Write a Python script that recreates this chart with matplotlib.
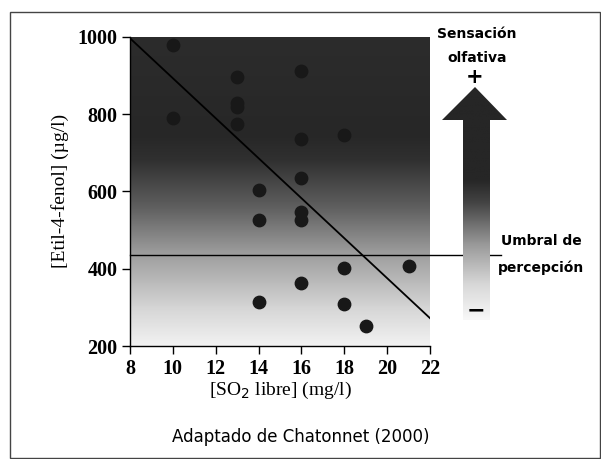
import numpy as np
import matplotlib
matplotlib.use('Agg')
import matplotlib.pyplot as plt
from matplotlib.colors import LinearSegmentedColormap
from matplotlib.patches import Polygon, Rectangle

# data
so2_libre = [10, 10, 13, 13, 13, 13, 14, 14, 14, 16, 16, 16, 16, 16, 16, 18, 18, 18, 19, 21]
etil_fenol = [978, 791, 895, 829, 818, 775, 603, 526, 315, 911, 735, 635, 547, 526, 364, 746, 401, 308, 252, 407]
reg_x = [8, 22]
reg_y = [996, 272]
umbral = 435
x_ticks = [8, 10, 12, 14, 16, 18, 20, 22]
y_ticks = [200, 400, 600, 800, 1000]

W, H = 601, 459
fig = plt.figure(figsize=(W / 100, H / 100), dpi=100)
fig.patch.set_facecolor('white')

ax = fig.add_axes([130 / W, 1 - 346 / H, 300 / W, (346 - 36.7) / H])

# background gradient (dark at top, light at bottom)
grad_cmap = LinearSegmentedColormap.from_list(
    'fondo', [(0.0, '#f2f2f2'), (0.12, '#d6d6d6'), (0.3, '#9c9c9c'),
              (0.45, '#5e5e5e'), (0.6, '#303030'), (0.68, '#272727'), (1.0, '#2c2c2c')])
yy = np.linspace(0, 1, 256).reshape(-1, 1)
ax.imshow(yy, extent=[8, 22, 200, 1000], origin='lower', aspect='auto', cmap=grad_cmap, zorder=0)

ax.scatter(so2_libre, etil_fenol, s=80, color='#181818', zorder=3)
ax.plot(reg_x, reg_y, color='black', lw=1.3, zorder=4)
ax.plot([8, 25.3], [umbral, umbral], color='black', lw=1.0, zorder=4, clip_on=False)

ax.set_xlim(8, 22)
ax.set_ylim(200, 1000)
ax.set_xticks(x_ticks)
ax.set_yticks(y_ticks)
for s in ['top', 'right']:
    ax.spines[s].set_visible(False)
for s in ['left', 'bottom']:
    ax.spines[s].set_linewidth(1.0)
ax.tick_params(direction='out', length=6, width=1.0, pad=3)
for lab in ax.get_xticklabels() + ax.get_yticklabels():
    lab.set_fontfamily('Liberation Serif')
    lab.set_fontweight('bold')
    lab.set_fontsize(14.5)

ax.set_xlabel('[SO$_2$ libre] (mg/l)', fontfamily='Liberation Serif', fontsize=14, labelpad=1)
ax.set_ylabel('[Etil-4-fenol] (µg/l)', fontfamily='Liberation Serif', fontsize=14, labelpad=6)

# overlay in pixel coordinates for arrow, notes and frame
ov = fig.add_axes([0, 0, 1, 1], zorder=5)
ov.set_xlim(0, W)
ov.set_ylim(H, 0)
ov.axis('off')
ov.patch.set_alpha(0)

arrow_pts = [(442, 120), (475, 87), (507, 120), (490, 120), (490, 320), (463, 320), (463, 120)]
arrow = Polygon(arrow_pts, closed=True, facecolor='none', edgecolor='none')
ov.add_patch(arrow)
arrow_cmap = LinearSegmentedColormap.from_list(
    'flecha', [(0.0, '#f8f8f8'), (0.15, '#d8d8d8'), (0.32, '#9a9a9a'),
               (0.5, '#444444'), (0.6, '#262626'), (1.0, '#262626')])
img = ov.imshow(yy[::-1], extent=[440, 510, 320, 86], origin='upper', aspect='auto', cmap=arrow_cmap)
img.set_clip_path(arrow)

note_kw = dict(fontfamily='DejaVu Sans', fontweight='bold', fontsize=10, ha='center', va='center')
ov.text(477, 34, 'Sensación', **note_kw)
ov.text(477, 58, 'olfativa', **note_kw)
ov.text(475, 77, '+', fontfamily='DejaVu Sans', fontweight='bold', fontsize=15, ha='center', va='center')
ov.text(476, 310, '−', fontfamily='DejaVu Sans', fontweight='bold', fontsize=16, ha='center', va='center')
ov.text(541, 241, 'Umbral de', **note_kw)
ov.text(541, 268, 'percepción', **note_kw)
ov.text(301, 437, 'Adaptado de Chatonnet (2000)', fontfamily='DejaVu Sans', fontsize=12,
        ha='center', va='center')

ov.add_patch(Rectangle((9.5, 12), 590, 446, fill=False, edgecolor='#444444', lw=1.0))

fig.savefig('out.png', dpi=100, facecolor='white')
